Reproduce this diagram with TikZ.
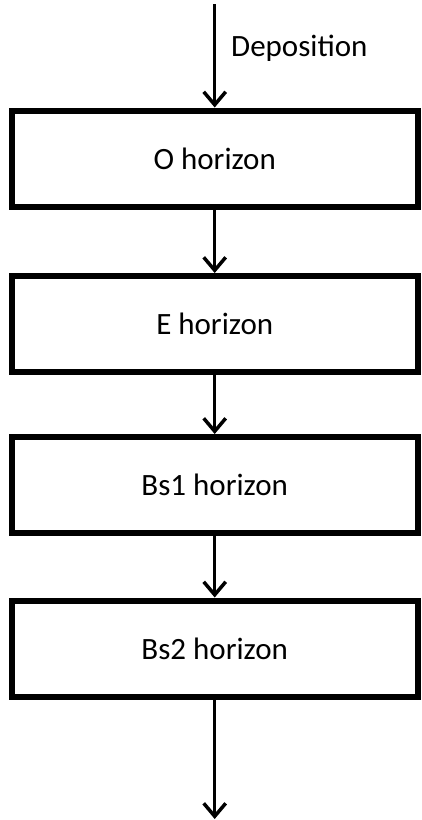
\documentclass[tikz,border=0pt]{standalone}
\usepackage{fontspec}
\setmainfont{Carlito}
\usetikzlibrary{arrows.meta}
\begin{document}
\begin{tikzpicture}[x=1pt,y=-1pt,
  horizonbox/.style={draw=black,line width=6pt,minimum width=406pt,minimum height=96pt,font=\fontsize{31}{36}\selectfont,inner sep=0pt},
  flowarrow/.style={line width=3pt,-{Straight Barb[length=13pt,width=22pt,line width=3.5pt]}}]
\useasboundingbox (0,0) rectangle (421,820);
\node[horizonbox] (o) at (214.7,158.5) {O horizon};
\node[horizonbox] (e) at (214.7,324) {E horizon};
\node[horizonbox] (bs1) at (214.7,485) {Bs1 horizon};
\node[horizonbox] (bs2) at (214.7,648.5) {Bs2 horizon};
\coordinate (top) at (214.7,4);
\coordinate (bottom) at (214.7,819);
\draw[flowarrow] (top) -- (o.north);
\draw[flowarrow] (o.south) -- (e.north);
\draw[flowarrow] (e.south) -- (bs1.north);
\draw[flowarrow] (bs1.south) -- (bs2.north);
\draw[flowarrow] (bs2.south) -- (bottom);
\node[anchor=west,font=\fontsize{31}{36}\selectfont,inner sep=0pt] (dep) at (231,48) {Deposition};
\end{tikzpicture}
\end{document}
